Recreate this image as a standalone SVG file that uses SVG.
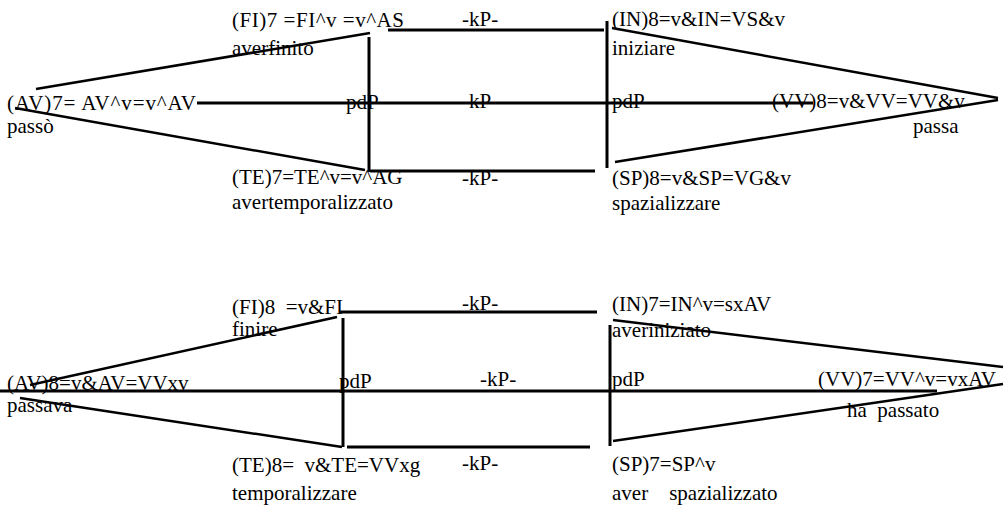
<svg xmlns="http://www.w3.org/2000/svg" width="1007" height="507" viewBox="0 0 1007 507">
<style>
text{font-family:"Liberation Serif","Times New Roman",serif;font-size:21px;fill:#000}
.c line{stroke:#000;stroke-width:3}
.c .t{stroke-width:2.5}
</style>
<rect width="1007" height="507" fill="#fff"/>
<g class="c" id="connectors">
<line x1="36" y1="89" x2="370" y2="33" class="t"/>
<line x1="369" y1="37" x2="369" y2="172"/>
<line x1="388" y1="30" x2="604" y2="30"/>
<line x1="607" y1="21" x2="607" y2="168"/>
<line x1="612" y1="28" x2="998" y2="98" class="t"/>
<line x1="197" y1="103" x2="813" y2="103"/>
<line x1="998" y1="100" x2="615" y2="162" class="t"/>
<line x1="15" y1="108" x2="365" y2="170" class="t"/>
<line x1="370" y1="171" x2="595" y2="171"/>
<line x1="30" y1="385" x2="337" y2="317" class="t"/>
<line x1="340" y1="312" x2="597" y2="312"/>
<line x1="343" y1="318" x2="343" y2="447"/>
<line x1="613" y1="320" x2="1003" y2="367" class="t"/>
<line x1="610" y1="325" x2="610" y2="446"/>
<line x1="0" y1="391" x2="937" y2="391"/>
<line x1="1003" y1="384" x2="613" y2="441" class="t"/>
<line x1="20" y1="398" x2="342" y2="447" class="t"/>
<line x1="347" y1="447" x2="590" y2="447"/>
</g>
<g id="n-fi7"><text x="232" y="27" textLength="172" lengthAdjust="spacing">(FI)7 =FI^v =v^AS</text><text x="232" y="55">averfinito</text></g>
<g id="n-av7"><text x="7" y="110" textLength="189" lengthAdjust="spacing">(AV)7= AV^v=v^AV</text><text x="7" y="133">passò</text></g>
<g id="n-pdp1"><text x="346" y="109">pdP</text></g>
<g id="n-kp1"><text x="462" y="26">-kP-</text></g>
<g id="n-kp2"><text x="462" y="108">-kP-</text></g>
<g id="n-kp3"><text x="462" y="185">-kP-</text></g>
<g id="n-in8"><text x="612" y="26">(IN)8=v&amp;IN=VS&amp;v</text><text x="612" y="55">iniziare</text></g>
<g id="n-pdp2"><text x="612" y="108">pdP</text></g>
<g id="n-vv8"><text x="772" y="108">(VV)8=v&amp;VV=VV&amp;v</text><text x="913" y="133">passa</text></g>
<g id="n-te7"><text x="232" y="184">(TE)7=TE^v=v^AG</text><text x="232" y="209">avertemporalizzato</text></g>
<g id="n-sp8"><text x="612" y="185">(SP)8=v&amp;SP=VG&amp;v</text><text x="612" y="210">spazializzare</text></g>
<g id="n-fi8"><text x="232" y="314" xml:space="preserve">(FI)8  =v&amp;FI</text><text x="232" y="336">finire</text></g>
<g id="n-kp4"><text x="462" y="310">-kP-</text></g>
<g id="n-in7"><text x="612" y="311">(IN)7=IN^v=sxAV</text><text x="612" y="337">averiniziato</text></g>
<g id="n-av8"><text x="7" y="390">(AV)8=v&amp;AV=VVxv</text><text x="7" y="412">passava</text></g>
<g id="n-pdp3"><text x="339" y="388">pdP</text></g>
<g id="n-kp5"><text x="480" y="386">-kP-</text></g>
<g id="n-pdp4"><text x="612" y="386">pdP</text></g>
<g id="n-vv7"><text x="818" y="386">(VV)7=VV^v=vxAV</text><text x="847" y="417" xml:space="preserve">ha  passato</text></g>
<g id="n-te8"><text x="232" y="472" xml:space="preserve">(TE)8=  v&amp;TE=VVxg</text><text x="232" y="500">temporalizzare</text></g>
<g id="n-kp6"><text x="462" y="470">-kP-</text></g>
<g id="n-sp7"><text x="612" y="471">(SP)7=SP^v</text><text x="612" y="500" xml:space="preserve">aver    spazializzato</text></g>
</svg>
